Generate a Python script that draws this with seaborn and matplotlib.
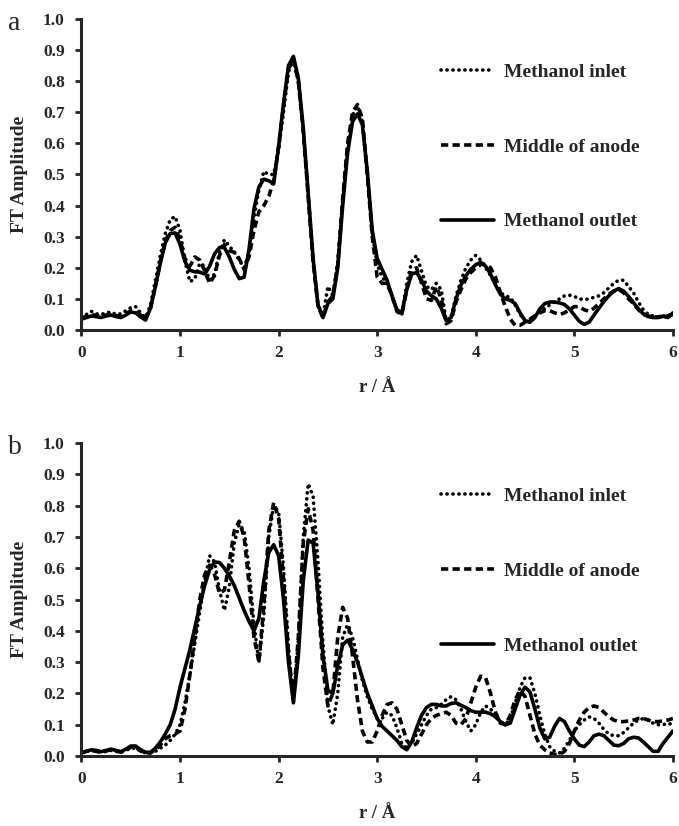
import numpy as np
import pandas as pd
import matplotlib
matplotlib.use("Agg")
import matplotlib.pyplot as plt
from matplotlib.lines import Line2D
import seaborn as sns

# ---------------- data ----------------
r = [round(0.05 * i, 2) for i in range(121)]

a_outlet = [0.035, 0.040, 0.045, 0.043, 0.040, 0.045, 0.048, 0.043, 0.040, 0.048,
            0.058, 0.055, 0.042, 0.032, 0.070, 0.140, 0.215, 0.280, 0.310, 0.312,
            0.275, 0.220, 0.192, 0.187, 0.186, 0.180, 0.205, 0.245, 0.265, 0.265,
            0.235, 0.195, 0.165, 0.170, 0.260, 0.390, 0.460, 0.485, 0.480, 0.470,
            0.590, 0.730, 0.850, 0.880, 0.810, 0.650, 0.440, 0.230, 0.080, 0.040,
            0.085, 0.100, 0.200, 0.400, 0.570, 0.670, 0.695, 0.660, 0.510, 0.320,
            0.230, 0.195, 0.160, 0.110, 0.065, 0.055, 0.130, 0.180, 0.185, 0.160,
            0.125, 0.110, 0.100, 0.070, 0.030, 0.040, 0.100, 0.145, 0.175, 0.195,
            0.210, 0.218, 0.205, 0.180, 0.145, 0.115, 0.100, 0.095, 0.085, 0.055,
            0.030, 0.025, 0.040, 0.068, 0.085, 0.090, 0.090, 0.087, 0.082, 0.068,
            0.048, 0.028, 0.018, 0.025, 0.048, 0.070, 0.092, 0.110, 0.125, 0.133,
            0.125, 0.108, 0.088, 0.068, 0.052, 0.043, 0.040, 0.040, 0.044, 0.040,
            0.055]

a_inlet = [0.040, 0.050, 0.060, 0.052, 0.050, 0.055, 0.058, 0.050, 0.052, 0.062,
           0.072, 0.075, 0.055, 0.040, 0.080, 0.160, 0.240, 0.310, 0.355, 0.365,
           0.320, 0.220, 0.155, 0.165, 0.215, 0.205, 0.160, 0.180, 0.250, 0.290,
           0.270, 0.250, 0.225, 0.200, 0.250, 0.360, 0.450, 0.510, 0.500, 0.500,
           0.580, 0.700, 0.830, 0.870, 0.800, 0.640, 0.430, 0.220, 0.080, 0.045,
           0.140, 0.110, 0.220, 0.420, 0.590, 0.690, 0.720, 0.670, 0.500, 0.310,
           0.210, 0.170, 0.150, 0.110, 0.060, 0.050, 0.150, 0.220, 0.240, 0.190,
           0.140, 0.130, 0.150, 0.130, 0.030, 0.040, 0.110, 0.160, 0.200, 0.225,
           0.240, 0.225, 0.200, 0.175, 0.145, 0.120, 0.110, 0.105, 0.080, 0.050,
           0.030, 0.030, 0.045, 0.060, 0.070, 0.080, 0.090, 0.100, 0.110, 0.112,
           0.108, 0.100, 0.098, 0.100, 0.105, 0.110, 0.120, 0.135, 0.150, 0.160,
           0.160, 0.140, 0.120, 0.090, 0.065, 0.050, 0.045, 0.042, 0.045, 0.048,
           0.050]

a_middle = [0.038, 0.045, 0.050, 0.046, 0.044, 0.048, 0.052, 0.046, 0.045, 0.052,
            0.062, 0.060, 0.048, 0.035, 0.070, 0.140, 0.220, 0.285, 0.320, 0.330,
            0.290, 0.230, 0.205, 0.235, 0.225, 0.190, 0.150, 0.175, 0.240, 0.275,
            0.255, 0.250, 0.230, 0.195, 0.235, 0.320, 0.380, 0.400, 0.430, 0.480,
            0.590, 0.720, 0.840, 0.870, 0.800, 0.640, 0.430, 0.220, 0.075, 0.040,
            0.090, 0.110, 0.210, 0.420, 0.600, 0.700, 0.725, 0.680, 0.500, 0.300,
            0.170, 0.150, 0.150, 0.110, 0.060, 0.050, 0.130, 0.190, 0.200, 0.150,
            0.100, 0.095, 0.140, 0.100, 0.020, 0.030, 0.090, 0.130, 0.165, 0.185,
            0.200, 0.210, 0.212, 0.200, 0.170, 0.120, 0.075, 0.035, 0.015, 0.015,
            0.025, 0.035, 0.045, 0.055, 0.062, 0.062, 0.055, 0.050, 0.055, 0.065,
            0.075, 0.075, 0.065, 0.060, 0.070, 0.085, 0.100, 0.115, 0.125, 0.130,
            0.120, 0.100, 0.085, 0.065, 0.050, 0.045, 0.042, 0.042, 0.045, 0.045,
            0.050]

b_outlet = [0.010, 0.015, 0.020, 0.018, 0.014, 0.018, 0.022, 0.018, 0.014, 0.022,
            0.032, 0.032, 0.020, 0.012, 0.012, 0.025, 0.045, 0.070, 0.100, 0.150,
            0.220, 0.280, 0.340, 0.410, 0.480, 0.545, 0.595, 0.620, 0.618, 0.600,
            0.575, 0.545, 0.505, 0.465, 0.430, 0.400, 0.440, 0.560, 0.650, 0.675,
            0.640, 0.500, 0.300, 0.170, 0.320, 0.560, 0.690, 0.680, 0.520, 0.320,
            0.210, 0.200, 0.290, 0.355, 0.370, 0.340, 0.300, 0.250, 0.200, 0.160,
            0.120, 0.095, 0.080, 0.065, 0.050, 0.030, 0.020, 0.045, 0.090, 0.130,
            0.155, 0.165, 0.165, 0.160, 0.160, 0.168, 0.170, 0.162, 0.155, 0.145,
            0.140, 0.140, 0.140, 0.135, 0.125, 0.110, 0.100, 0.105, 0.150, 0.195,
            0.220, 0.205, 0.150, 0.090, 0.055, 0.060, 0.095, 0.120, 0.110, 0.080,
            0.055, 0.035, 0.030, 0.045, 0.065, 0.070, 0.065, 0.050, 0.035, 0.033,
            0.040, 0.055, 0.060, 0.058, 0.045, 0.030, 0.015, 0.015, 0.040, 0.060,
            0.080]

b_inlet = [0.012, 0.015, 0.018, 0.015, 0.012, 0.015, 0.018, 0.015, 0.012, 0.018,
           0.025, 0.025, 0.015, 0.010, 0.010, 0.015, 0.025, 0.035, 0.050, 0.070,
           0.100, 0.170, 0.260, 0.360, 0.460, 0.560, 0.640, 0.620, 0.530, 0.465,
           0.540, 0.680, 0.740, 0.720, 0.600, 0.420, 0.300, 0.450, 0.700, 0.800,
           0.780, 0.600, 0.350, 0.170, 0.370, 0.700, 0.870, 0.830, 0.620, 0.360,
           0.160, 0.100, 0.200, 0.380, 0.420, 0.380, 0.310, 0.240, 0.190, 0.150,
           0.120, 0.120, 0.140, 0.130, 0.090, 0.040, 0.025, 0.040, 0.070, 0.100,
           0.130, 0.150, 0.155, 0.165, 0.180, 0.190, 0.180, 0.150, 0.110, 0.080,
           0.100, 0.140, 0.160, 0.150, 0.130, 0.110, 0.100, 0.120, 0.170, 0.220,
           0.250, 0.250, 0.200, 0.130, 0.070, 0.030, 0.015, 0.010, 0.025, 0.050,
           0.080, 0.100, 0.115, 0.125, 0.120, 0.105, 0.085, 0.070, 0.065, 0.065,
           0.075, 0.090, 0.105, 0.115, 0.120, 0.115, 0.105, 0.100, 0.100, 0.105,
           0.100]

b_middle = [0.012, 0.015, 0.018, 0.015, 0.012, 0.016, 0.020, 0.016, 0.012, 0.020,
            0.028, 0.028, 0.016, 0.010, 0.010, 0.020, 0.035, 0.055, 0.065, 0.070,
            0.080, 0.150, 0.260, 0.380, 0.500, 0.580, 0.610, 0.580, 0.520, 0.530,
            0.620, 0.720, 0.750, 0.700, 0.550, 0.380, 0.300, 0.480, 0.720, 0.810,
            0.760, 0.560, 0.330, 0.180, 0.380, 0.680, 0.790, 0.720, 0.500, 0.280,
            0.160, 0.200, 0.380, 0.475, 0.440, 0.320, 0.180, 0.080, 0.045, 0.045,
            0.080, 0.130, 0.165, 0.170, 0.150, 0.100, 0.050, 0.030, 0.040, 0.070,
            0.100, 0.120, 0.130, 0.135, 0.140, 0.130, 0.105, 0.100, 0.120, 0.170,
            0.220, 0.255, 0.250, 0.200, 0.140, 0.105, 0.100, 0.130, 0.180, 0.210,
            0.190, 0.130, 0.070, 0.035, 0.020, 0.010, 0.005, 0.005, 0.015, 0.040,
            0.080, 0.115, 0.140, 0.155, 0.160, 0.155, 0.140, 0.125, 0.115, 0.110,
            0.110, 0.112, 0.115, 0.120, 0.120, 0.115, 0.110, 0.110, 0.112, 0.115,
            0.120]

series_names = ["Methanol inlet", "Middle of anode", "Methanol outlet"]
y_ticks = [0.0, 0.1, 0.2, 0.3, 0.4, 0.5, 0.6, 0.7, 0.8, 0.9, 1.0]
x_ticks = [0, 1, 2, 3, 4, 5, 6]
panel_labels = ["a", "b"]

for s in (a_outlet, a_inlet, a_middle, b_outlet, b_inlet, b_middle):
    assert len(s) == len(r)

def long_df(inlet, middle, outlet):
    frames = []
    for name, vals in zip(series_names, (inlet, middle, outlet)):
        frames.append(pd.DataFrame({"r": r, "amp": vals, "sample": name}))
    return pd.concat(frames, ignore_index=True)

df_a = long_df(a_inlet, a_middle, a_outlet)
df_b = long_df(b_inlet, b_middle, b_outlet)

# ---------------- style ----------------
sns.set_style("ticks")
plt.rcParams["font.family"] = ["Liberation Serif", "DejaVu Serif"]
plt.rcParams["font.weight"] = "bold"
plt.rcParams["axes.labelweight"] = "bold"

LW = 2.6
dash_map = {"Methanol inlet": (0.05, 1.6),
            "Middle of anode": (2.0, 1.2),
            "Methanol outlet": ""}

fig = plt.figure(figsize=(6.79, 8.26), dpi=100)
ax_a = fig.add_axes([0.120, 0.6005, 0.871, 0.3765])
ax_b = fig.add_axes([0.120, 0.0847, 0.871, 0.379])

for ax, df, lab in ((ax_a, df_a, panel_labels[0]), (ax_b, df_b, panel_labels[1])):
    sns.lineplot(data=df, x="r", y="amp", style="sample", dashes=dash_map,
                 style_order=series_names, color="black", linewidth=LW,
                 legend=False, ax=ax, sort=False, estimator=None)
    for ln in ax.lines:
        ln.set_solid_capstyle("round")
        ln.set_solid_joinstyle("round")
    ax.lines[0].set_dash_capstyle("round")
    ax.lines[1].set_dash_capstyle("butt")
    ax.set_xlim(0, 6)
    ax.set_ylim(0, 1.0)
    ax.set_xticks(x_ticks)
    ax.set_yticks(y_ticks)
    ax.set_yticklabels([f"{v:.1f}" for v in y_ticks])
    ax.tick_params(axis="both", labelsize=12.5, width=2.0, length=4, direction="out")
    ax.tick_params(axis="y", pad=8)
    ax.tick_params(axis="x", pad=7)
    for t in ax.get_xticklabels() + ax.get_yticklabels():
        t.set_fontweight("bold")
    for sp in ("left", "bottom"):
        ax.spines[sp].set_linewidth(2.2)
    sns.despine(ax=ax)
    ax.set_xlabel("r / Å", fontsize=13.5, fontweight="bold", labelpad=13)
    ax.set_ylabel("FT Amplitude", fontsize=14, fontweight="bold", labelpad=11)

    handles = [
        Line2D([0], [0], color="black", linewidth=LW, dashes=dash_map[series_names[0]],
               dash_capstyle="round"),
        Line2D([0], [0], color="black", linewidth=LW, dashes=dash_map[series_names[1]],
               dash_capstyle="butt"),
        Line2D([0], [0], color="black", linewidth=LW),
    ]
    ax.legend(handles, series_names, loc="upper left", bbox_to_anchor=(0.592, 0.89),
              frameon=False, handlelength=2.7, handletextpad=0.5,
              labelspacing=2.95, borderpad=0, prop={"weight": "bold", "size": 14})

    bbox = ax.get_position()
    fig.text(0.012, bbox.y1 - 0.005, lab, fontsize=20, fontweight="normal",
             ha="left", va="center")

fig.savefig("out.png", dpi=100)
